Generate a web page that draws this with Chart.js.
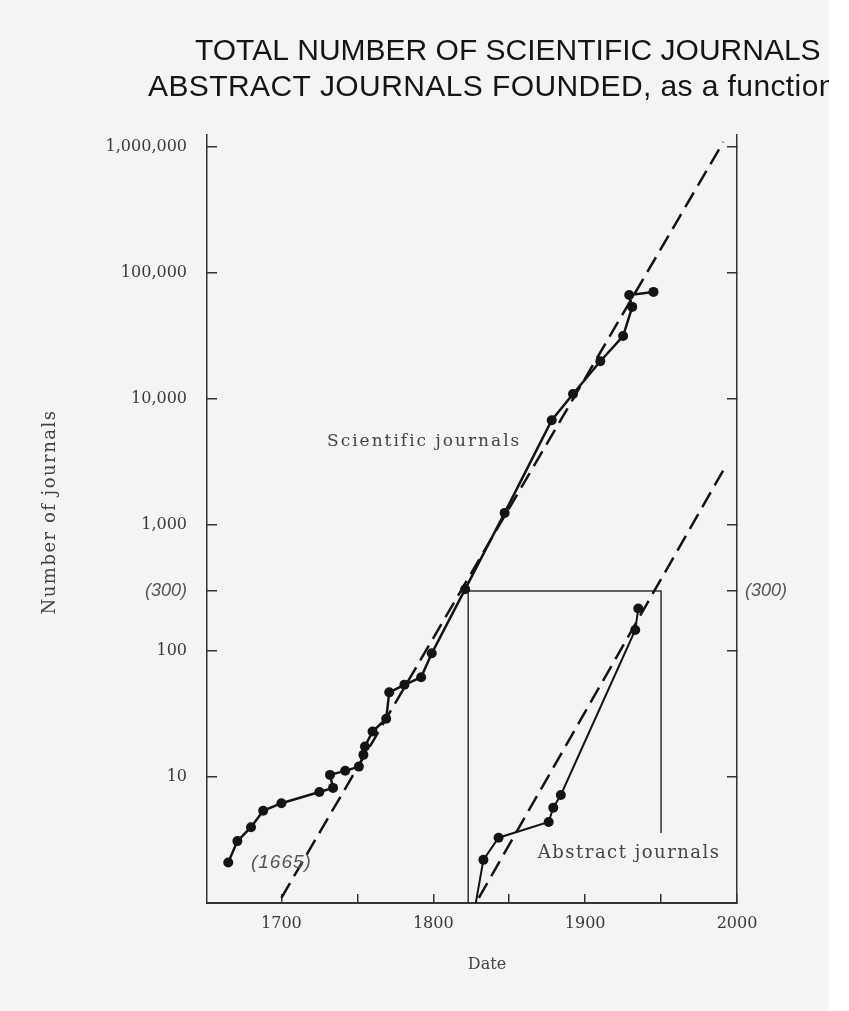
<!DOCTYPE html>
<html>
<head>
<meta charset="utf-8">
<script src="https://cdn.jsdelivr.net/npm/chart.js@4"></script>
<style>
  html, body { margin: 0; padding: 0; background: #f4f3f6; }
  #wrap { width: 849px; height: 1011px; }
</style>
</head>
<body>
<div id="wrap"><canvas id="journals" width="849" height="1011"></canvas></div>
<script>
// scientific journals, total in existence
const sciYears  = [1665, 1671, 1680, 1688, 1700, 1725, 1734, 1732, 1742, 1751, 1754, 1755, 1760, 1769, 1771, 1781, 1792, 1799, 1821, 1847, 1878, 1892, 1910, 1925, 1931, 1929, 1945];
const sciCounts = [2.1, 3.1, 4.0, 5.4, 6.2, 7.6, 8.2, 10.4, 11.2, 12.1, 15, 17.5, 23, 29, 47, 54, 62, 96, 310, 1250, 6800, 11000, 20000, 31700, 54000, 67000, 71000];

// abstract journals founded
const absYears  = [1828, 1833, 1843, 1876, 1879, 1884, 1933, 1935];
const absCounts = [1.0, 2.2, 3.3, 4.4, 5.7, 7.2, 147, 218];

// dashed exponential trend lines (end points)
const sciTrendYears  = [1700, 1991];
const sciTrendCounts = [1.1, 1100000];
const absTrendYears  = [1830, 1993];
const absTrendCounts = [1.1, 3000];

// inset frame marking where abstract journals start (300 journals)
const boxYears  = [1823, 1823, 1950, 1950];
const boxCounts = [1, 300, 300, 3.6];

const yTicks = [10, 100, 300, 1000, 10000, 100000, 1000000];
const xTicks = [1700, 1750, 1800, 1850, 1900, 1950, 2000];

const pts = (xs, ys) => xs.map((x, i) => ({ x: x, y: ys[i] }));

const ink = '#141414';
const serif = 'DejaVu Serif';
const sans = 'Liberation Sans';

const notes = {
  id: 'notes',
  beforeDraw(chart) {
    const ctx = chart.ctx;
    ctx.save();
    ctx.fillStyle = '#f4f3f6';
    ctx.fillRect(0, 0, chart.width, chart.height);
    ctx.restore();
  },
  afterDraw(chart) {
    const ctx = chart.ctx;
    const x = chart.scales.x, y = chart.scales.y;
    ctx.save();
    ctx.fillStyle = '#151515';
    ctx.textAlign = 'left';
    ctx.textBaseline = 'alphabetic';
    ctx.font = '30px "Liberation Sans"';
    ctx.fillText('TOTAL NUMBER OF SCIENTIFIC JOURNALS', 195, 60);
    ctx.letterSpacing = '0.4px';
    ctx.fillText('ABSTRACT JOURNALS FOUNDED, as a function', 148, 96);

    ctx.fillStyle = '#444';
    ctx.textAlign = 'center';
    ctx.textBaseline = 'middle';
    ctx.letterSpacing = '2px';
    ctx.font = '17px "' + serif + '"';
    ctx.fillText('Scientific journals', x.getPixelForValue(1794), y.getPixelForValue(4600));
    ctx.letterSpacing = '1.5px';
    ctx.font = '18px "' + serif + '"';
    ctx.fillText('Abstract journals', x.getPixelForValue(1929), y.getPixelForValue(2.5));
    ctx.letterSpacing = '0px';
    ctx.font = '16px "' + serif + '"';
    ctx.fillText('Date', (x.left + x.right) / 2 + 15, 965);

    ctx.save();
    ctx.translate(50, 512);
    ctx.rotate(-Math.PI / 2);
    ctx.letterSpacing = '1.5px';
    ctx.font = '18px "' + serif + '"';
    ctx.fillText('Number of journals', 0, 0);
    ctx.restore();

    ctx.fillStyle = '#555';
    ctx.letterSpacing = '1px';
    ctx.font = 'italic 19px "' + sans + '"';
    ctx.fillText('(1665)', x.getPixelForValue(1700), y.getPixelForValue(2.1));
    ctx.letterSpacing = '0px';

    // white margin strip at the right of the scan
    ctx.fillStyle = '#ffffff';
    ctx.fillRect(829, 0, chart.width - 829, chart.height);
    ctx.restore();
  }
};

const tickFont = ctx => (ctx.tick && ctx.tick.value === 300)
  ? { family: sans, style: 'italic', size: 18 }
  : { family: serif, size: 16 };
const tickColor = ctx => (ctx.tick && ctx.tick.value === 300) ? '#555' : '#3a3a3a';

new Chart(document.getElementById('journals'), {
  type: 'line',
  data: {
    datasets: [
      {
        label: 'Scientific journals',
        data: pts(sciYears, sciCounts),
        borderColor: ink,
        backgroundColor: ink,
        borderWidth: 2.5,
        pointRadius: 5,
        pointBackgroundColor: ink,
        pointBorderWidth: 0,
        tension: 0
      },
      {
        label: 'Scientific trend',
        data: pts(sciTrendYears, sciTrendCounts),
        borderColor: ink,
        borderWidth: 2.5,
        borderDash: [17, 8],
        pointRadius: 0
      },
      {
        label: 'Abstract journals',
        data: pts(absYears, absCounts),
        borderColor: ink,
        backgroundColor: ink,
        borderWidth: 2,
        pointRadius: absYears.map((v, i) => i === 0 ? 0 : 5),
        pointBackgroundColor: ink,
        pointBorderWidth: 0,
        tension: 0
      },
      {
        label: 'Abstract trend',
        data: pts(absTrendYears, absTrendCounts),
        borderColor: ink,
        borderWidth: 2.5,
        borderDash: [17, 8],
        pointRadius: 0
      },
      {
        label: 'Inset',
        data: pts(boxYears, boxCounts),
        borderColor: '#333',
        borderWidth: 1.5,
        pointRadius: 0
      }
    ]
  },
  options: {
    responsive: false,
    animation: false,
    events: [],
    layout: { padding: { top: 135, left: 0, right: 0, bottom: 0 } },
    plugins: { legend: { display: false }, tooltip: { enabled: false } },
    scales: {
      x: {
        type: 'linear',
        position: 'bottom',
        min: 1651,
        max: 2000,
        afterBuildTicks: s => { s.ticks = xTicks.map(v => ({ value: v })); },
        afterFit: s => { s.height = 108; },
        grid: { drawOnChartArea: false, drawTicks: true, tickLength: -9, color: '#333', lineWidth: 1.5 },
        border: { display: true, color: '#333', width: 2 },
        ticks: {
          callback: v => v % 100 === 0 ? String(v) : '',
          font: { family: serif, size: 16 },
          color: '#3a3a3a',
          padding: 20,
          maxRotation: 0,
          autoSkip: false
        }
      },
      y: {
        type: 'logarithmic',
        position: 'left',
        min: 1,
        max: 1250000,
        afterBuildTicks: s => { s.ticks = yTicks.map(v => ({ value: v })); },
        afterFit: s => { s.width = 207; },
        grid: { drawOnChartArea: false, drawTicks: true, tickLength: -10, color: '#333', lineWidth: 1.5 },
        border: { display: true, color: '#333', width: 1.5 },
        ticks: {
          callback: v => v === 300 ? '(300)' : Number(v).toLocaleString('en-US'),
          font: tickFont,
          color: tickColor,
          padding: 30,
          autoSkip: false
        }
      },
      y2: {
        type: 'logarithmic',
        position: 'right',
        min: 1,
        max: 1250000,
        afterBuildTicks: s => { s.ticks = yTicks.map(v => ({ value: v })); },
        afterFit: s => { s.width = 112; },
        grid: { drawOnChartArea: false, drawTicks: true, tickLength: -10, color: '#333', lineWidth: 1.5 },
        border: { display: true, color: '#333', width: 1.5 },
        ticks: {
          callback: v => v === 300 ? '(300)' : '',
          font: { family: sans, style: 'italic', size: 18 },
          color: '#555',
          padding: 18,
          autoSkip: false
        }
      }
    }
  },
  plugins: [notes]
});
</script>
</body>
</html>
